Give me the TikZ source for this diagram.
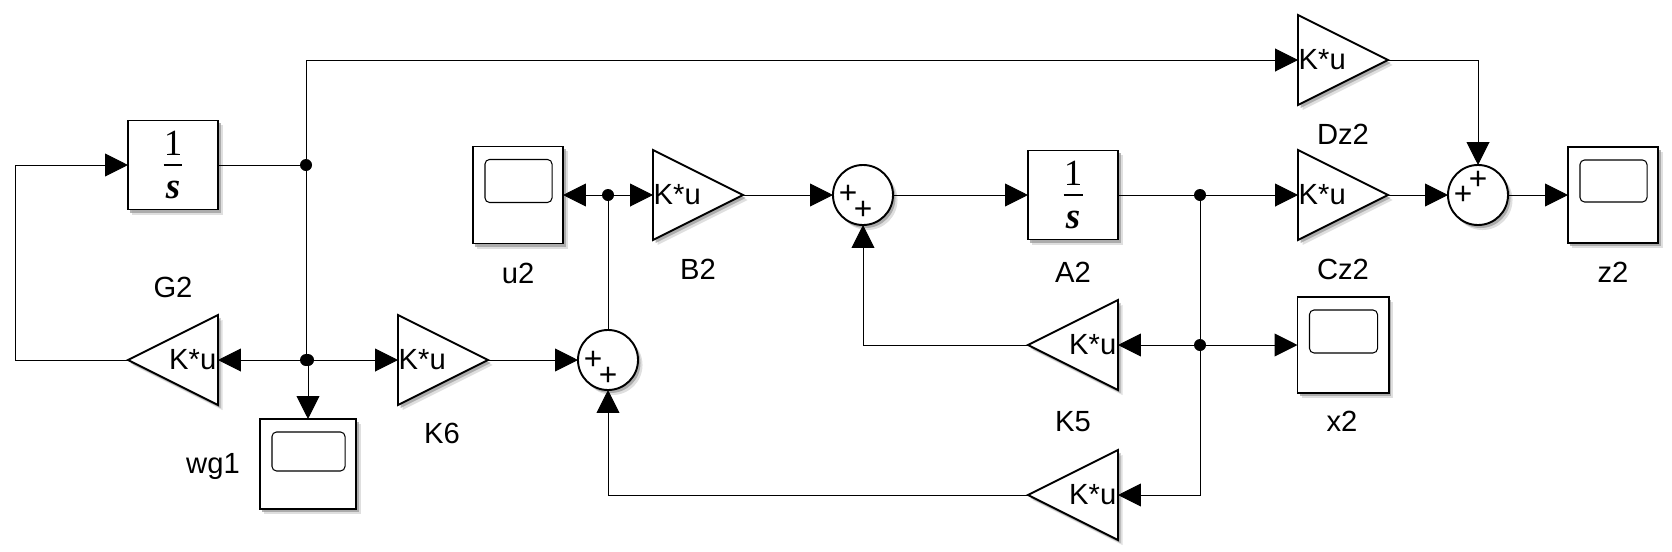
\documentclass[tikz,border=0pt]{standalone}
\usepackage{xcolor}
\usepackage{fontspec}
\setmainfont{Liberation Sans}
\newfontfamily\intfont{Liberation Serif}
\usetikzlibrary{shapes.geometric, arrows.meta, shadows}
\definecolor{myshadow}{RGB}{150,150,150}
\newcommand{\oneovers}{\fontsize{10.5}{12}\selectfont\vbox{\offinterlineskip\halign{\hfil##\hfil\cr
  \intfont 1\cr\noalign{\kern2.3pt}\rule{5.4pt}{0.6pt}\cr\noalign{\kern4.3pt}\intfont\bfseries\itshape s\cr}}}
\tikzset{
  blockshadow/.style={drop shadow={shadow xshift=0.045cm,shadow yshift=-0.05cm,fill=myshadow,opacity=0.3},
    drop shadow={shadow xshift=0.025cm,shadow yshift=-0.03cm,fill=myshadow,opacity=0.7}},
  intblock/.style={rectangle,draw,fill=white,minimum width=0.9cm,minimum height=0.89cm,
    inner sep=0pt,outer sep=0pt,line width=0.55pt,blockshadow},
  scopeblock/.style={rectangle,draw,fill=white,inner sep=0pt,outer sep=0pt,line width=0.55pt,blockshadow},
  screen/.style={line width=0.3pt,rounded corners=1.3pt},
  gainbase/.style={isosceles triangle,isosceles triangle stretches,draw,fill=white,minimum width=0.9cm,
    minimum height=0.9cm,inner sep=0pt,outer sep=0pt,line width=0.55pt,blockshadow,anchor=lower side},
  gainr/.style={gainbase,label={[font=\fontsize{8.3}{10}\selectfont,inner sep=0pt,anchor=west]west:K*u}},
  gainl/.style={gainbase,shape border rotate=180,label={[font=\fontsize{8.3}{10}\selectfont,inner sep=0pt,anchor=east,xshift=-0.01cm]east:K*u}},
  sumjunc/.style={circle,draw,fill=white,minimum size=0.6cm,inner sep=0pt,outer sep=0pt,line width=0.55pt,blockshadow},
  plussign/.style={font=\fontsize{9}{10}\selectfont,inner sep=0pt},
  blocklabel/.style={font=\fontsize{8.3}{10}\selectfont,inner sep=0pt},
  dot/.style={circle,fill=black,minimum size=0.12cm,inner sep=0pt,outer sep=0pt},
  arrow/.style={-{Triangle[length=6.5pt,width=6.5pt]},line width=0.28pt},
  line/.style={line width=0.28pt}
}
\begin{document}
\begin{tikzpicture}[x=0.01cm,y=-0.01cm]
  \useasboundingbox (0,-1) rectangle (1672,550);

  % Upper loop blocks
  \node[intblock] (intG) at (173,164) {\oneovers};
  \node[gainl] (gainG) at (218,359) {};
  \node[scopeblock,minimum width=0.96cm,minimum height=0.9cm] (scW) at (308,463) {};
  \node[gainr] (gainK6) at (398,359) {};
  \node[sumjunc] (sumU) at (608,359) {};
  \node[scopeblock,minimum width=0.9cm,minimum height=0.97cm] (scU) at (518,194) {};
  \node[gainr] (gainB2) at (653,194) {};
  \node[sumjunc] (sumX) at (863,194) {};

  % Lower loop blocks
  \node[intblock] (intA) at (1073,194) {\oneovers};
  \node[gainl] (gainK5) at (1118,344) {};
  \node[gainl] (gainK7) at (1118,494) {};
  \node[scopeblock,minimum width=0.91cm,minimum height=0.96cm] (scX) at (1343,344) {};

  % Output blocks
  \node[gainr] (gainDz) at (1298,59) {};
  \node[gainr] (gainCz) at (1298,194) {};
  \node[sumjunc] (sumZ) at (1478,194) {};
  \node[scopeblock,minimum width=0.9cm,minimum height=0.96cm] (scZ) at (1613,194) {};

  % Scope screens
  \foreach \sc/\sh in {scW/52,scU/56,scX/56,scZ/55}
    \draw[screen] ([shift={(12,13)}]\sc.north west) rectangle ([shift={(-11,\sh)}]\sc.north east);

  % Plus signs
  \node[plussign] (pU1) at (593,359) {+};
  \node[plussign] (pU2) at (608,375) {+};
  \node[plussign] (pX1) at (848,193) {+};
  \node[plussign] (pX2) at (863,209) {+};
  \node[plussign] (pZ1) at (1463,194) {+};
  \node[plussign] (pZ2) at (1478,179) {+};

  % Labels
  \node[blocklabel] (lblG) at (173,286) {G2};
  \node[blocklabel] (lblW) at (213,465) {wg1};
  \node[blocklabel] (lblK6) at (442,432) {K6};
  \node[blocklabel] (lblU) at (518,272) {u2};
  \node[blocklabel] (lblB) at (698,268) {B2};
  \node[blocklabel] (lblA) at (1073,271) {A2};
  \node[blocklabel] (lblK5) at (1073,421) {K5};
  \node[blocklabel] (lblX) at (1342,420) {x2};
  \node[blocklabel] (lblD) at (1343,133) {Dz2};
  \node[blocklabel] (lblC) at (1343,268) {Cz2};
  \node[blocklabel] (lblZ) at (1613,271) {z2};

  % Branch points
  \node[dot] (jG) at (306,164) {};
  \node[dot] (jH) at (306,359) {};
  \node[dot] (jW) at (308,359) {};
  \node[dot] (jB) at (608,194) {};
  \node[dot] (jA) at (1200,194) {};
  \node[dot] (jC) at (1200,344) {};
  \coordinate (lftG) at (15,359);

  % Connectors
  \draw[line] (intG.east) -- (jG);
  \draw[line] (jG) -- (jH);
  \draw[arrow] (jG) |- (gainDz.lower side);
  \draw[arrow] (jH) -- (gainG.lower side);
  \draw[arrow] (jH) -- (gainK6.lower side);
  \draw[arrow] (jW) -- (scW.north);
  \draw[arrow] (gainG.apex) -- (lftG) |- (intG.west);
  \draw[arrow] (gainK6.apex) -- (sumU.west);
  \draw[line] (sumU.north) -- (jB);
  \draw[arrow] (jB) -- (scU.east);
  \draw[arrow] (jB) -- (gainB2.lower side);
  \draw[arrow] (gainB2.apex) -- (sumX.west);
  \draw[arrow] (sumX.east) -- (intA.west);
  \draw[line] (intA.east) -- (jA);
  \draw[arrow] (jA) -- (gainCz.lower side);
  \draw[arrow] (gainCz.apex) -- (sumZ.west);
  \draw[arrow] (gainDz.apex) -| (sumZ.north);
  \draw[arrow] (sumZ.east) -- (scZ.west);
  \draw[line] (jA) -- (jC);
  \draw[arrow] (jC) -- (gainK5.lower side);
  \draw[arrow] (jC) -- (scX.west);
  \draw[arrow] (jC) |- (gainK7.lower side);
  \draw[arrow] (gainK5.apex) -| (sumX.south);
  \draw[arrow] (gainK7.apex) -| (sumU.south);
\end{tikzpicture}
\end{document}
